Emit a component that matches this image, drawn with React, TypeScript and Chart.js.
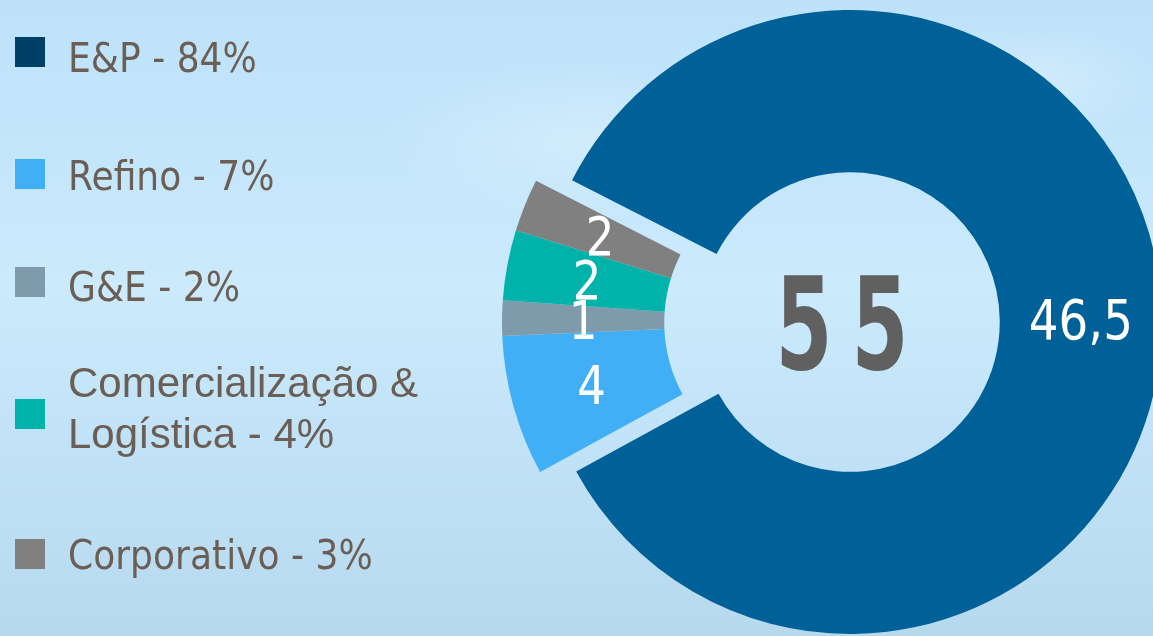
import React, { useEffect, useRef } from 'react';
import { Chart, registerables } from 'chart.js';

Chart.register(...registerables);

// ---- data ----
const categories = ['E&P', 'Refino', 'G&E', 'Comercialização & Logística', 'Corporativo'];
const investment = [46.5, 4, 1, 2, 1.5];
const valueLabels = ['46,5', '4', '1', '2', '2'];
const sharePct = [84, 7, 2, 4, 3];
const sliceColors = ['#006098', '#40aff5', '#7f9aab', '#00b3aa', '#808080'];
const legendColors = ['#003f66', '#40aff5', '#7f9aab', '#00b3aa', '#808080'];

// ---- layout (not data) ----
const legendBoxTop = [37, 159, 267, 399, 539];
const legendCapTop = [43, 161, 272, 367, 540];
const GROUP_SHIFT = 36;

const explodePlugin = {
  id: 'explodeGroup',
  beforeDatasetsDraw(chart: any) {
    const arcs = chart.getDatasetMeta(0).data;
    if (!arcs.length) return;
    const first = arcs[1];
    const last = arcs[arcs.length - 1];
    const mid = (first.startAngle + last.endAngle) / 2;
    chart.$shift = { dx: Math.cos(mid) * GROUP_SHIFT, dy: Math.sin(mid) * GROUP_SHIFT };
    arcs.forEach((arc: any, i: number) => {
      if (i === 0 || arc.$patched) return;
      const orig = arc.draw;
      arc.draw = function (ctx: CanvasRenderingContext2D, area: any) {
        ctx.save();
        ctx.translate(chart.$shift.dx, chart.$shift.dy);
        orig.call(this, ctx, area);
        ctx.restore();
      };
      arc.$patched = true;
    });
  },
  afterDatasetsDraw(chart: any) {
    const ctx: CanvasRenderingContext2D = chart.ctx;
    const arcs = chart.getDatasetMeta(0).data;
    const shift = chart.$shift || { dx: 0, dy: 0 };
    // slice value labels
    arcs.forEach((arc: any, i: number) => {
      const mid = (arc.startAngle + arc.endAngle) / 2;
      const r = (arc.innerRadius + arc.outerRadius) / 2;
      let px = arc.x + Math.cos(mid) * r;
      let py = arc.y + Math.sin(mid) * r;
      if (i > 0) {
        px += shift.dx;
        py += shift.dy;
      }
      const size = i === 0 ? 55 : 53;
      ctx.save();
      ctx.fillStyle = '#ffffff';
      ctx.font = `${size}px "DejaVu Sans"`;
      ctx.textAlign = 'center';
      ctx.textBaseline = 'alphabetic';
      ctx.translate(px, py + size * 0.729 / 2);
      ctx.scale(0.85, 1);
      ctx.fillText(valueLabels[i], 0, 0);
      ctx.restore();
    });
    // center total
    const total = investment.reduce((a, b) => a + b, 0);
    const text = String(Math.round(total));
    const cx = arcs[0].x;
    const cy = arcs[0].y;
    const size = 128;
    const advance = 76;
    ctx.save();
    ctx.fillStyle = '#606060';
    ctx.font = `bold ${size}px "DejaVu Sans"`;
    ctx.textAlign = 'center';
    ctx.textBaseline = 'alphabetic';
    const chars = text.split('');
    chars.forEach((ch, k) => {
      const x = cx - 8 + (k - (chars.length - 1) / 2) * advance;
      ctx.save();
      ctx.translate(x, cy + size * 0.729 / 2);
      ctx.scale(0.64, 1);
      ctx.fillText(ch, 0, 0);
      ctx.restore();
    });
    ctx.restore();
  },
};

export default function App() {
  const canvasRef = useRef<HTMLCanvasElement | null>(null);

  useEffect(() => {
    const canvas = canvasRef.current;
    if (!canvas) return;
    const chart = new Chart(canvas, {
      type: 'doughnut',
      data: {
        labels: categories,
        datasets: [
          {
            data: investment,
            backgroundColor: sliceColors,
            borderWidth: 0,
            hoverOffset: 0,
            offset: 0,
          },
        ],
      },
      options: {
        responsive: false,
        maintainAspectRatio: false,
        devicePixelRatio: 1,
        animation: false,
        events: [],
        cutout: '48%',
        rotation: 297,
        layout: { padding: { left: 538, right: 8, top: 10, bottom: 2 } },
        plugins: {
          legend: { display: false },
          tooltip: { enabled: false },
        },
      },
      plugins: [explodePlugin],
    } as any);
    return () => chart.destroy();
  }, []);

  return (
    <div
      style={{
        position: 'fixed',
        left: 0,
        top: 0,
        width: 1153,
        height: 636,
        overflow: 'hidden',
        background:
          'linear-gradient(180deg, #bde2f9 0%, #c4e6fb 25%, #cbeafc 45%, #c3e4f8 65%, #b7d9ee 100%)',
      }}
    >
      <div
        style={{
          position: 'absolute',
          left: 380,
          top: 60,
          width: 420,
          height: 160,
          borderRadius: '50%',
          background: 'radial-gradient(closest-side, rgba(215,238,252,0.7), rgba(215,238,252,0))',
        }}
      />
      <div
        style={{
          position: 'absolute',
          left: 900,
          top: 20,
          width: 260,
          height: 120,
          borderRadius: '50%',
          background: 'radial-gradient(closest-side, rgba(220,240,253,0.6), rgba(220,240,253,0))',
        }}
      />
      <canvas
        ref={canvasRef}
        width={1170}
        height={636}
        style={{ position: 'absolute', left: 0, top: 0, width: 1170, height: 636, display: 'block' }}
      />
      {categories.map((name, i) => {
        const multi = i === 3;
        const font = multi ? 42 : 41;
        return (
          <React.Fragment key={name}>
            <div
              style={{
                position: 'absolute',
                left: 15,
                top: legendBoxTop[i],
                width: 30,
                height: 30,
                background: legendColors[i],
              }}
            />
            <div
              style={{
                position: 'absolute',
                left: 68,
                top: multi ? legendCapTop[i] - 10 : legendCapTop[i] - 0.117 * font,
                width: multi ? 360 : 'auto',
                whiteSpace: multi ? 'normal' : 'nowrap',
                fontFamily: multi ? '"Liberation Sans", Arial, sans-serif' : '"DejaVu Sans", sans-serif',
                fontSize: font,
                lineHeight: multi ? '51px' : `${font}px`,
                color: '#6b5e55',
                transform: multi ? 'none' : 'scaleX(0.88)',
                transformOrigin: 'left top',
              }}
            >
              {`${name} - ${sharePct[i]}%`}
            </div>
          </React.Fragment>
        );
      })}
    </div>
  );
}
